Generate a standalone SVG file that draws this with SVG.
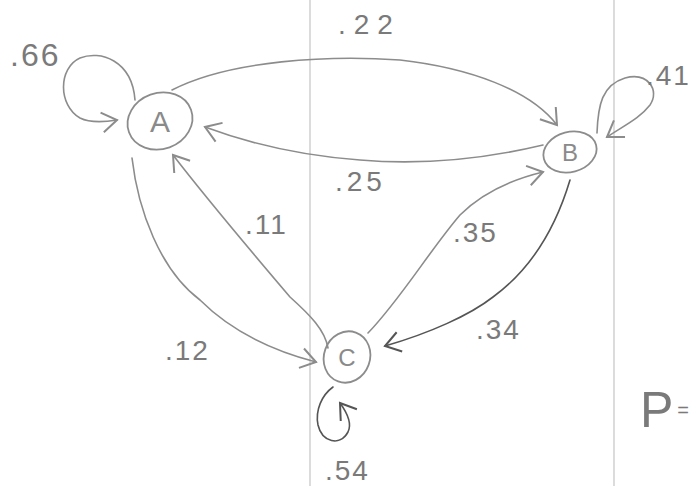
<svg xmlns="http://www.w3.org/2000/svg" width="695" height="486" viewBox="0 0 695 486">
<style>
.bg{fill:#ffffff}
.rule{stroke:#c4c4c4;stroke-width:1.2}
.edge{fill:none;stroke:#8c8c8c;stroke-width:1.6;stroke-linecap:round}
.dark{stroke:#555555}
.node{fill:none;stroke:#8c8c8c;stroke-width:1.8}
.lbl{font-family:"Liberation Sans",Arial,sans-serif;font-size:28px;fill:#7a7a7a;letter-spacing:2px}
.nl{font-family:"Liberation Sans",Arial,sans-serif;fill:#8a8a8a;text-anchor:middle}
</style>
<defs>
<marker id="arr" markerUnits="userSpaceOnUse" markerWidth="30" markerHeight="30" viewBox="-16 -12 20 24" refX="0" refY="0" orient="auto">
<path d="M-12,-8 L0,0 L-12,8" fill="none" stroke="#8c8c8c" stroke-width="1.6"/>
</marker>
<marker id="arrd" markerUnits="userSpaceOnUse" markerWidth="30" markerHeight="30" viewBox="-16 -12 20 24" refX="0" refY="0" orient="auto">
<path d="M-12,-8 L0,0 L-12,8" fill="none" stroke="#555555" stroke-width="1.6"/>
</marker>
</defs>
<rect class="bg" x="0" y="0" width="695" height="486"/>
<line class="rule" x1="310" y1="0" x2="310" y2="486"/>
<line class="rule" x1="614" y1="0" x2="614" y2="486"/>
<g id="connectors">
<path class="edge" d="M135,100 C132,60 100,50 80,58 C58,68 58,105 80,118 C90,123 105,122 117,120" marker-end="url(#arr)"/>
<path class="edge" d="M172,90 C230,60 330,55 400,60 C470,68 530,90 557,125" marker-end="url(#arr)"/>
<path class="edge" d="M543,145 C480,160 420,165 360,160 C290,155 240,140 205,127" marker-end="url(#arr)"/>
<path class="edge" d="M328,348 C325,330 310,315 290,297 C250,250 200,190 173,155" marker-end="url(#arr)"/>
<path class="edge" d="M132,158 C138,210 160,270 200,300 C230,330 270,350 316,362" marker-end="url(#arr)"/>
<path class="edge" d="M368,333 C400,300 430,250 460,215 C480,195 510,180 543,172" marker-end="url(#arr)"/>
<path class="edge dark" d="M570,180 C555,230 530,270 493,297 C470,315 430,333 385,346" marker-end="url(#arrd)"/>
<path class="edge" d="M597,133 C598,105 602,85 625,78 C648,72 660,90 650,105 C640,118 625,125 607,137" marker-end="url(#arr)"/>
<path class="edge dark" d="M333,387 C322,395 315,410 318,425 C322,442 340,447 348,432 C352,424 348,414 340,403" marker-end="url(#arrd)"/>
</g>
<g id="A">
<ellipse class="node" cx="160" cy="121" rx="33" ry="28" transform="rotate(-20 160 121)"/>
<text class="nl" x="160" y="132" font-size="30">A</text>
</g>
<g id="B">
<ellipse class="node" cx="570" cy="152" rx="27" ry="20" transform="rotate(-15 570 152)"/>
<text class="nl" x="570" y="161" font-size="24">B</text>
</g>
<g id="C">
<ellipse class="node" cx="347" cy="357" rx="23" ry="26" transform="rotate(20 347 357)"/>
<text class="nl" x="347" y="366" font-size="24">C</text>
</g>
<g id="labels">
<text class="lbl" x="10" y="66" style="font-size:32px">.66</text>
<text class="lbl" x="338" y="34" style="letter-spacing:8px">.22</text>
<text class="lbl" x="646" y="85">.41</text>
<text class="lbl" x="335" y="191" style="letter-spacing:4px">.25</text>
<text class="lbl" x="245" y="234">.11</text>
<text class="lbl" x="453" y="242">.35</text>
<text class="lbl" x="165" y="360">.12</text>
<text class="lbl" x="476" y="339">.34</text>
<text class="lbl" x="325" y="480">.54</text>
<text class="lbl" x="640" y="427" style="font-size:50px;letter-spacing:0">P<tspan dx="4" dy="-10" style="font-size:20px">=</tspan></text>
</g>
</svg>
